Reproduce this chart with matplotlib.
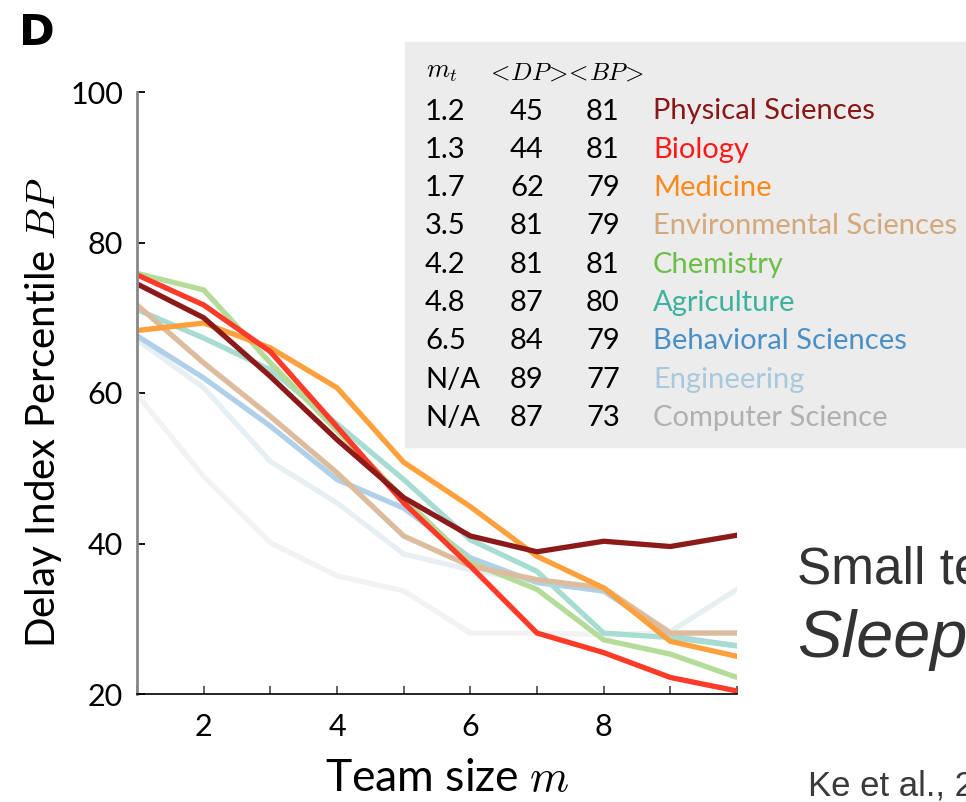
import numpy as np
import matplotlib
matplotlib.use("Agg")
import matplotlib.pyplot as plt
from matplotlib.patches import Rectangle

plt.rcParams['font.family'] = ['Lato', 'DejaVu Sans']
plt.rcParams['mathtext.fontset'] = 'cm'

# data
team_size = [1, 2, 3, 4, 5, 6, 7, 8, 9, 10]
fields = ["Physical Sciences", "Biology", "Medicine", "Environmental Sciences",
          "Chemistry", "Agriculture", "Behavioral Sciences", "Engineering",
          "Computer Science"]
m_t = ["1.2", "1.3", "1.7", "3.5", "4.2", "4.8", "6.5", "N/A", "N/A"]
mean_dp = [45, 44, 62, 81, 81, 87, 84, 89, 87]
mean_bp = [81, 81, 79, 79, 81, 80, 79, 77, 73]

bp_physical = [74.5, 70.0, 62.2, 53.8, 46.1, 41.0, 38.9, 40.3, 39.6, 41.1]
bp_biology = [75.7, 71.7, 65.5, 55.5, 45.4, 37.0, 28.1, 25.5, 22.2, 20.4]
bp_medicine = [68.3, 69.3, 66.0, 60.7, 50.8, 44.9, 38.3, 34.1, 27.0, 25.0]
bp_environ = [71.7, 64.0, 56.9, 49.4, 41.0, 37.0, 35.2, 34.1, 28.1, 28.1]
bp_chemistry = [75.9, 73.7, 64.0, 55.0, 46.0, 37.5, 33.9, 27.2, 25.3, 22.2]
bp_agri = [71.1, 67.3, 63.1, 55.9, 48.5, 40.5, 36.3, 28.1, 27.5, 26.4]
bp_behavioral = [67.6, 62.0, 55.6, 48.5, 44.7, 38.1, 34.8, 33.7, 27.7, 26.4]
bp_engineering = [67.1, 60.7, 50.9, 45.4, 38.6, 36.5, 35.0, 33.6, 28.3, 33.9]
bp_cs = [59.8, 48.9, 40.1, 35.7, 33.7, 28.1, 28.1, 27.9, 28.1, 28.1]

series = [bp_physical, bp_biology, bp_medicine, bp_environ, bp_chemistry,
          bp_agri, bp_behavioral, bp_engineering, bp_cs]
line_colors = ["#8c1a1a", "#ff3a28", "#ffa03c", "#dcbc9c", "#b4dc98",
               "#a6dcd2", "#b0d0ea", "#e8eff3", "#f2f2f2"]
text_colors = ["#8b1616", "#ff1a1a", "#ff8a1a", "#d4a87a", "#6dbe45",
               "#3db39e", "#4a90c8", "#a8c9dc", "#b0b0b0"]

W, H = 966, 802
fig = plt.figure(figsize=(W / 100, H / 100), dpi=100)

def fx(px):
    return px / W

def fy(py):
    return 1 - py / H

ax = fig.add_axes([fx(137), fy(694), fx(737) - fx(137), fy(92) - fy(694)])

# draw back to front (last legend row first)
for vals, c in list(zip(series, line_colors))[::-1]:
    ax.plot(team_size, vals, color=c, lw=3.8, solid_joinstyle='miter')

ax.set_xlim(1, 10)
ax.set_ylim(20, 100)
ax.set_xticks([2, 4, 6, 8])
ax.set_xticks([1, 3, 5, 7, 9, 10], minor=True)
ax.set_yticks([20, 40, 60, 80, 100])
ax.tick_params(axis='y', direction='in', length=6, width=1.3, labelsize=22, pad=10)
ax.tick_params(axis='x', which='both', direction='in', length=6, width=1.3,
               color='#555555', labelsize=22, pad=14)
for s in ['top', 'right']:
    ax.spines[s].set_visible(False)
ax.spines['left'].set_color('#888888')
ax.spines['left'].set_linewidth(2)
ax.spines['bottom'].set_linewidth(1.2)

ax.set_xlabel("Team size $m$", fontsize=32)
ax.xaxis.set_label_coords(0.517, -0.106)
ax.set_ylabel("Delay Index Percentile $BP$", fontsize=29)
ax.yaxis.set_label_coords(-0.122, 0.467)

# panel letter
fig.text(fx(19), fy(45), "D", fontsize=31, fontweight='bold',
         family='DejaVu Sans', va='baseline')

# table box
fig.patches.append(Rectangle((fx(405), fy(447)), 1 - fx(405) + 0.01, fy(42) - fy(447),
                             transform=fig.transFigure, color='#ececec', zorder=0))
fig.text(fx(426), fy(72), "$m_t$", fontsize=19, va='center')
fig.text(fx(486), fy(72), "$<\\!DP\\!>\\!\\!<\\!BP\\!>$", fontsize=18, va='center')
for i in range(len(fields)):
    yb = fy(119.5 + 38.3 * i)
    fig.text(fx(425), yb, m_t[i], fontsize=21, va='baseline')
    fig.text(fx(510), yb, str(mean_dp[i]), fontsize=21, va='baseline')
    fig.text(fx(586), yb, str(mean_bp[i]), fontsize=21, va='baseline')
    fig.text(fx(653), yb, fields[i], fontsize=21, va='baseline', color=text_colors[i])

# slide text on the right, cut by the edge as in the source slide
fig.text(fx(797), fy(584), "Small te", fontsize=37, family='Liberation Sans',
         va='baseline', color='#333333')
fig.text(fx(797), fy(657), "Sleep", fontsize=48, family='Liberation Sans',
         style='italic', va='baseline', color='#333333')
fig.text(fx(808), fy(796), "Ke et al., 2", fontsize=25, family='Liberation Sans',
         va='baseline', color='#3a3a3a')

fig.savefig("out.png", dpi=100)
